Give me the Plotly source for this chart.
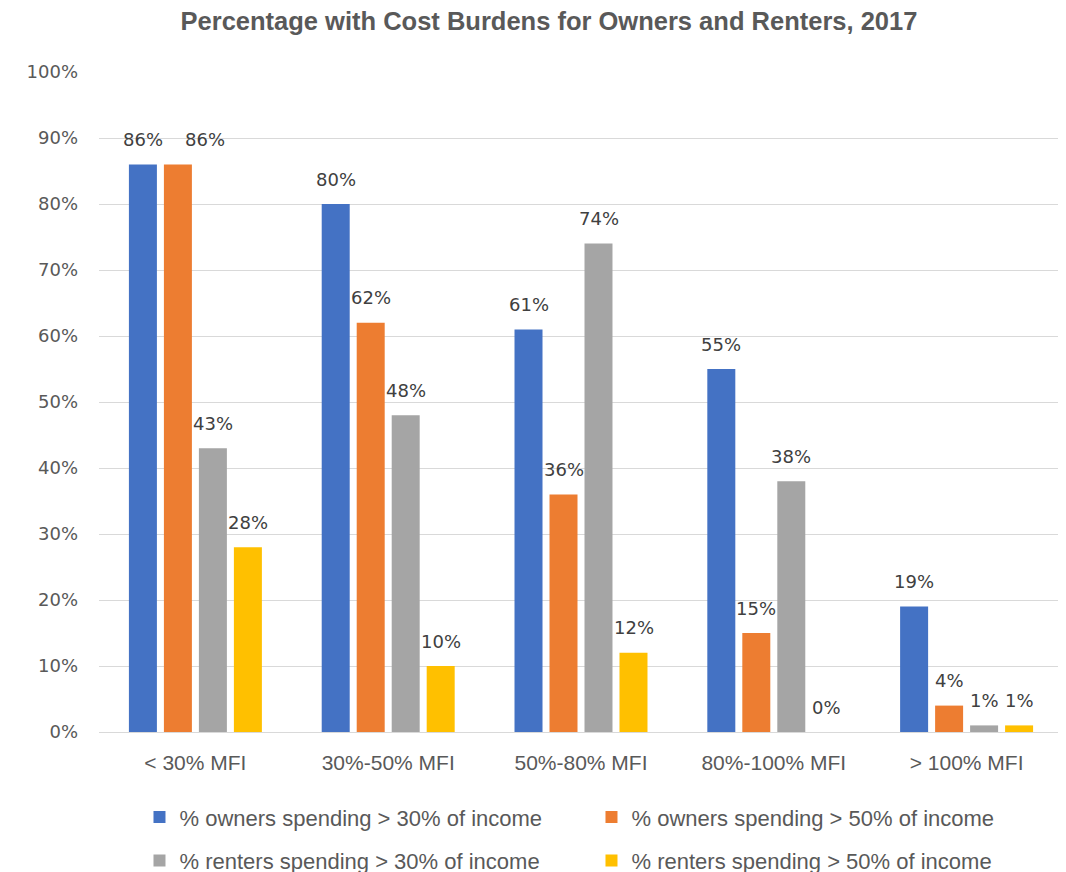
import plotly.graph_objects as go

categories = ["< 30% MFI", "30%-50% MFI", "50%-80% MFI", "80%-100% MFI", "> 100% MFI"]
series_names = [
    "% owners spending > 30% of income",
    "% owners spending > 50% of income",
    "% renters spending > 30% of income",
    "% renters spending > 50% of income",
]
owners_30 = [86, 80, 61, 55, 19]
owners_50 = [86, 62, 36, 15, 4]
renters_30 = [43, 48, 74, 38, 1]
renters_50 = [28, 10, 12, 0, 1]
y_ticks = [0, 10, 20, 30, 40, 50, 60, 70, 80, 90, 100]

colors = ["#4472C4", "#ED7D31", "#A5A5A5", "#FFC000"]
series_values = [owners_30, owners_50, renters_30, renters_50]
legends = ["legend", "legend", "legend2", "legend2"]

fig = go.Figure()
for name, vals, col, lg in zip(series_names, series_values, colors, legends):
    fig.add_trace(go.Bar(
        x=categories, y=vals, name=name, legend=lg,
        marker=dict(color=col, line=dict(width=0)),
        hoverinfo="skip",
    ))

# data labels (Excel nudges a label sideways when it would collide with its neighbour)
pitch = 35
char_w = 13.5
annotations = []
for i, vals in enumerate(series_values):
    for j, (cat, v) in enumerate(zip(categories, vals)):
        label = f"{v}%"
        nudge = 0
        if i > 0:
            prev = f"{series_values[i - 1][j]}%"
            wide = (len(label) + len(prev)) * char_w / 2 > pitch + 4
            if wide and abs(series_values[i - 1][j] - v) < 3:
                nudge = 27
        annotations.append(dict(
            x=cat, y=v, xref="x", yref="y", text=label, showarrow=False,
            xshift=(i - 1.5) * pitch + nudge, yshift=25, yanchor="middle",
            font=dict(family="DejaVu Sans", size=18, color="#404040"),
        ))

legend_font = dict(family="Liberation Sans", size=22, color="#595959")

fig.update_layout(
    width=1058, height=864,
    margin=dict(l=91, r=3, t=64, b=140, autoexpand=False),
    paper_bgcolor="white", plot_bgcolor="white",
    barmode="group", bargap=0.274, bargroupgap=0.2,
    title=dict(
        text="<b>Percentage with Cost Burdens for Owners and Renters, 2017</b>",
        x=0.5113, xanchor="center", y=0.985, yanchor="middle",
        font=dict(family="Liberation Sans", size=25.5, color="#595959"),
    ),
    yaxis=dict(
        range=[0, 100], tickvals=y_ticks, ticktext=[f"{t}%" for t in y_ticks],
        showgrid=True, gridcolor="#D9D9D9", gridwidth=1,
        zeroline=True, zerolinecolor="#D9D9D9", zerolinewidth=1,
        showline=False, ticks="", ticklabelstandoff=20,
        tickfont=dict(family="DejaVu Sans", size=18, color="#595959"),
        fixedrange=True,
    ),
    xaxis=dict(
        showline=False, ticks="", showgrid=False, ticklabelstandoff=16,
        tickfont=dict(family="Liberation Sans", size=21, color="#595959"),
        fixedrange=True,
    ),
    legend=dict(
        orientation="h", x=0.042, xanchor="left", y=-0.129, yanchor="middle",
        entrywidth=407, entrywidthmode="pixels", font=legend_font,
        itemclick=False, itemdoubleclick=False,
    ),
    legend2=dict(
        orientation="h", x=0.042, xanchor="left", y=-0.195, yanchor="middle",
        entrywidth=407, entrywidthmode="pixels", font=legend_font,
        itemclick=False, itemdoubleclick=False,
    ),
    annotations=annotations,
    showlegend=True,
)

fig.write_html("out.html")
